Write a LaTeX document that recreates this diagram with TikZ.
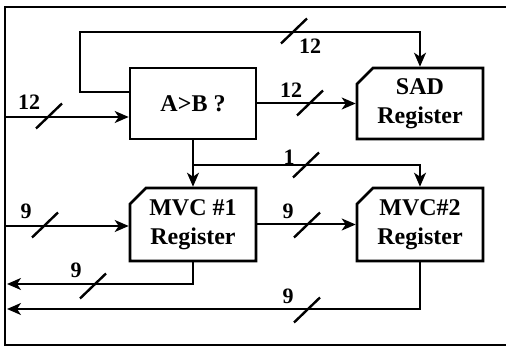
\documentclass[tikz,border=0pt]{standalone}
\usepackage{fontspec}
\setmainfont{Liberation Serif}
\usetikzlibrary{arrows.meta,shapes.misc,calc}
\begin{document}
\begin{tikzpicture}[x=1pt,y=-1pt,
  conn/.style={line width=2pt},
  arr/.style={-{Stealth[length=14pt,width=12pt,inset=4pt]}},
  box/.style={draw, line width=2.6pt, minimum width=126pt, minimum height=71pt,
    inner sep=0pt, font=\fontsize{24}{29}\selectfont\bfseries, align=center},
  regbox/.style={box, chamfered rectangle, chamfered rectangle corners=north west,
    chamfered rectangle xsep=13pt},
  lbl/.style={font=\fontsize{22}{22}\selectfont\bfseries, inner sep=0pt},
  busmark/.pic={\draw[line width=2.4pt] (-13,12.5) -- (13,-12.5);}]
\useasboundingbox (0,0) rectangle (506,347);
% frame
\draw[line width=2.8pt, line join=miter] (506,7) -- (5,7) -- (5,345) -- (506,345);
% boxes
\node[box] (ab) at (193,103.5) {A>B ?};
\node[regbox] (sad) at (420,103.5) {SAD\\Register};
\node[regbox, minimum height=73pt] (m1) at (193,224.5) {MVC \#1\\Register};
\node[regbox, minimum height=73pt] (m2) at (420,224.5) {MVC\#2\\Register};
% coordinates
\coordinate (in12) at (5,117);
\coordinate (fbL) at (80,92);
\coordinate (fbT) at (80,32);
\coordinate (br) at (193,165);
\coordinate (in9) at (5,226);
\coordinate (r1) at (7,284);
\coordinate (r2) at (7,309);
% connectors
\draw[conn,arr] (in12) -- (in12 -| ab.west);
\draw[conn,arr] (fbL -| ab.west) -- (fbL) -- (fbT) -| (sad.north);
\draw[conn,arr] (ab.east) -- (sad.west);
\draw[conn,arr] (ab.south) -- (m1.north);
\draw[conn,arr] (ab.south |- br) -| (m2.north);
\draw[conn,arr] (in9) -- (in9 -| m1.west);
\draw[conn,arr] (m1.east) -- (m2.west);
\draw[conn,arr] (m1.south) |- (r1);
\draw[conn,arr] (m2.south) |- (r2);
% bus marks
\pic at (49,116) {busmark};
\pic at (294,31) {busmark};
\pic at (310,103) {busmark};
\pic at (306,165) {busmark};
\pic at (45,225) {busmark};
\pic at (307,225) {busmark};
\pic at (93,286) {busmark};
\pic at (307,310) {busmark};
% labels
\node[lbl] (l1) at (29,102) {12};
\node[lbl] (l2) at (310,46) {12};
\node[lbl] (l3) at (291,90) {12};
\node[lbl] (l4) at (289,157) {1};
\node[lbl] (l5) at (26,211) {9};
\node[lbl] (l6) at (288,211) {9};
\node[lbl] (l7) at (76,270) {9};
\node[lbl] (l8) at (288,296) {9};
\end{tikzpicture}
\end{document}
